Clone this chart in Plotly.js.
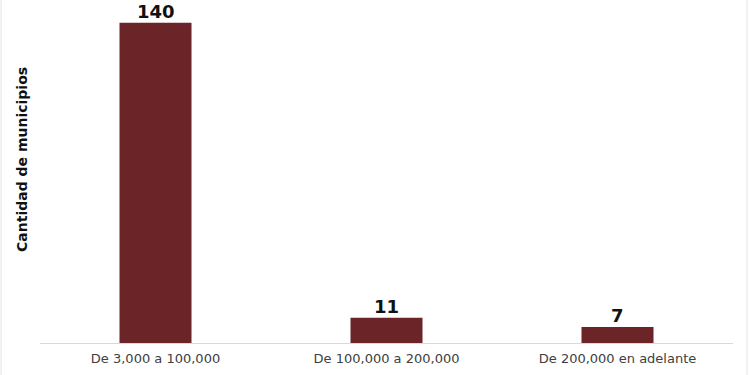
<!DOCTYPE html>
<html><head><meta charset="utf-8">
<script src="https://cdn.plot.ly/plotly-3.0.1.min.js"></script>
<style>body{margin:0;background:#fff}#chart{width:750px;height:375px}</style>
</head><body><div id="chart"></div>
<script>
const categories = ["De 3,000 a 100,000", "De 100,000 a 200,000", "De 200,000 en adelante"];
const values = [140, 11, 7];
const yTitle = "Cantidad de municipios";

const L = 40, R = 17, T = 0, B = 32, W = 750, H = 375;
const pw = W - L - R;

const trace = {
  type: 'bar', x: categories, y: values,
  marker: {color: '#6b2427'},
  hoverinfo: 'none'
};
const annotations = categories.map((c, i) => ({
  x: c, y: values[i], xref: 'x', yref: 'y',
  text: String(values[i]), showarrow: false,
  yanchor: 'bottom', yshift: 0, borderpad: 0,
  font: {family: 'DejaVu Sans', size: 18, color: '#111', weight: 'bold'}
}));
annotations.push({
  xref: 'paper', yref: 'paper', x: (22 - L) / pw, y: 1 - (160 - T) / (H - T - B),
  text: '<b>' + yTitle + '</b>', textangle: -90, showarrow: false,
  xanchor: 'center', yanchor: 'middle',
  font: {family: 'DejaVu Sans', size: 14, color: '#111'}
});
const layout = {
  width: W, height: H,
  margin: {l: L, r: R, t: T, b: B},
  paper_bgcolor: '#fff', plot_bgcolor: '#fff',
  bargap: 1 - 72 / 231,
  showlegend: false,
  xaxis: {showline: true, linecolor: '#d9d9d9', linewidth: 1, ticks: '', ticklabelstandoff: 3,
    tickfont: {family: 'DejaVu Sans', size: 13, color: '#404040'}, fixedrange: true},
  yaxis: {range: [0, 150], visible: false, showgrid: false, zeroline: false, fixedrange: true},
  annotations: annotations,
  shapes: [
    {type: 'line', xref: 'paper', yref: 'paper', x0: (1 - L) / pw, x1: (1 - L) / pw, y0: -B / (H - T - B), y1: 1, line: {color: '#e4e4e4', width: 1}},
    {type: 'line', xref: 'paper', yref: 'paper', x0: (747 - L) / pw, x1: (747 - L) / pw, y0: -B / (H - T - B), y1: 1, line: {color: '#e4e4e4', width: 1}}
  ]
};
Plotly.newPlot('chart', [trace], layout, {displayModeBar: false, staticPlot: true});
</script></body></html>
